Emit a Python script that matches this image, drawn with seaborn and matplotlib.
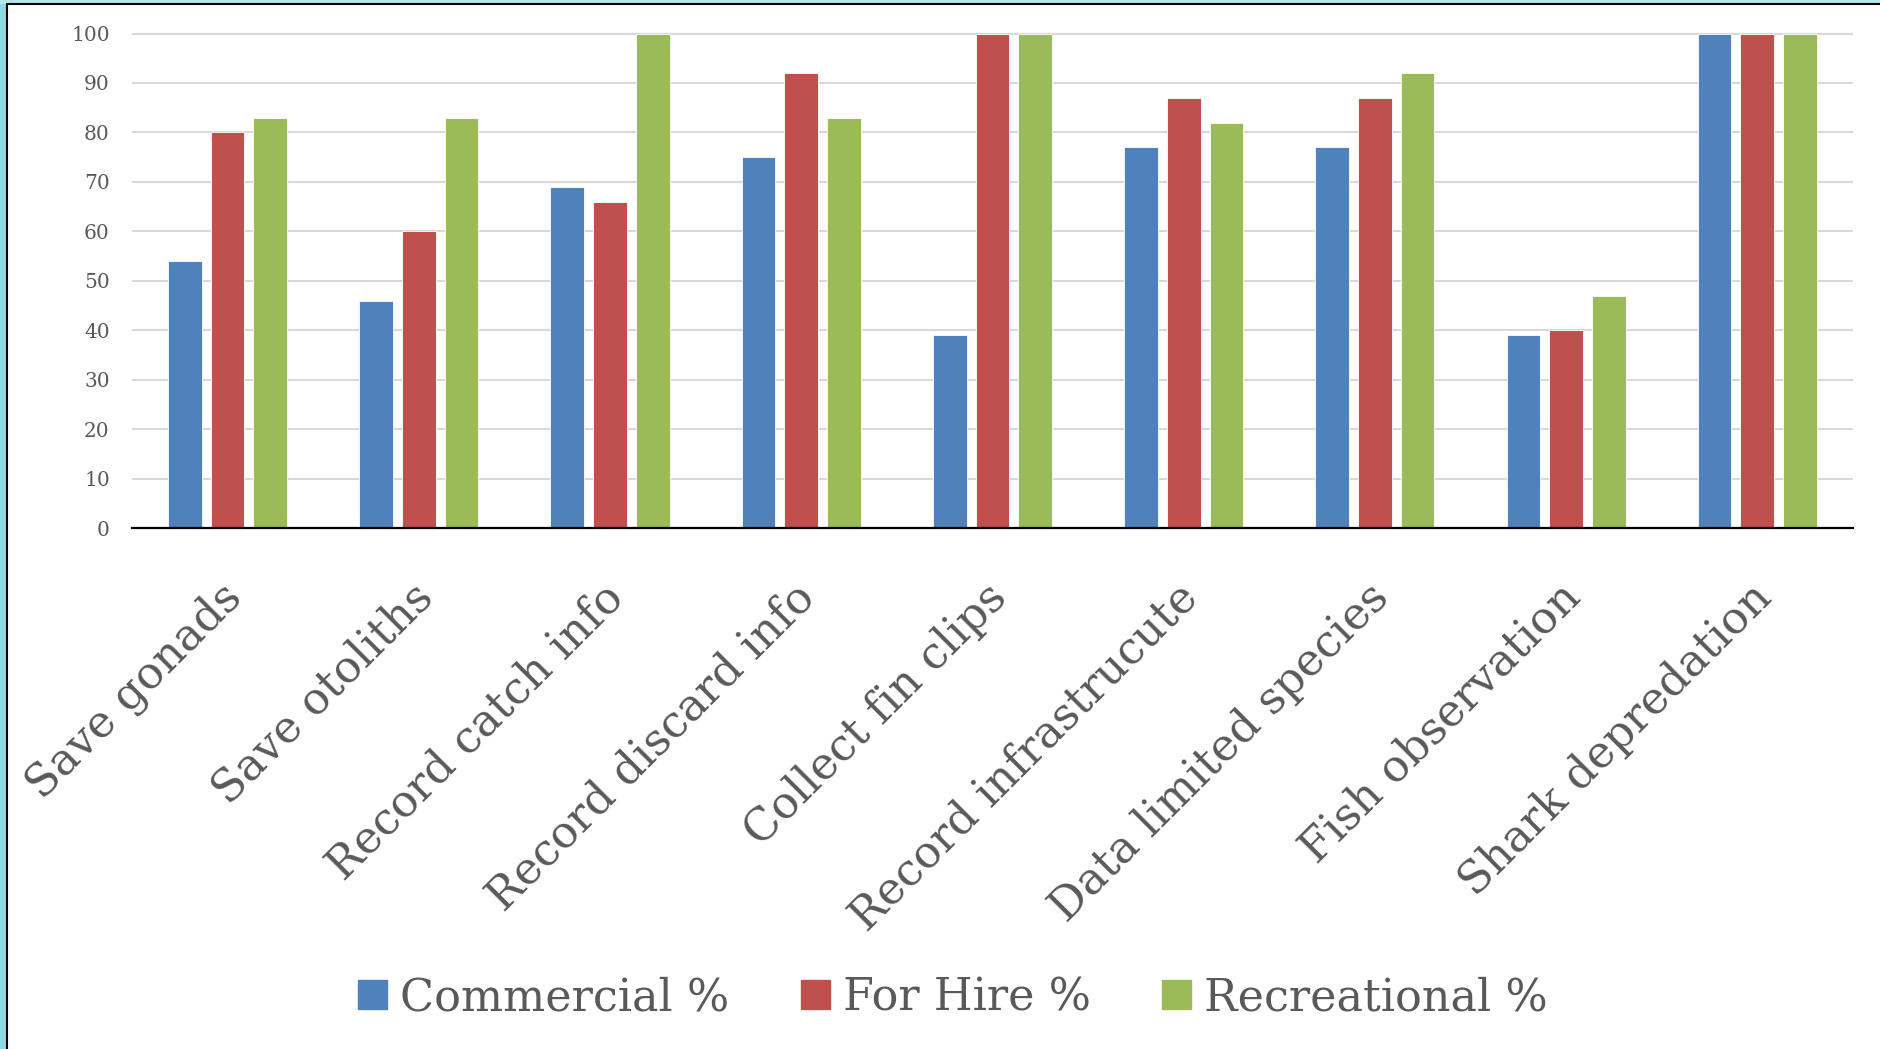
import seaborn as sns
import matplotlib.pyplot as plt
import matplotlib.transforms as mtransforms
from matplotlib.patches import Rectangle
from matplotlib.lines import Line2D
import pandas as pd

# datos
categorias = ["Save gonads", "Save otoliths", "Record catch info", "Record discard info",
              "Collect fin clips", "Record infrastrucute", "Data limited species",
              "Fish observation", "Shark depredation"]
comercial = [54, 46, 69, 75, 39, 77, 77, 39, 100]
for_hire = [80, 60, 66, 92, 100, 87, 87, 40, 100]
recreativo = [83, 83, 100, 83, 100, 82, 92, 47, 100]
series = ["Commercial %", "For Hire %", "Recreational %"]
colores = ["#4F81BD", "#C0504D", "#9BBB59"]
yticks = [0, 10, 20, 30, 40, 50, 60, 70, 80, 90, 100]

df = pd.DataFrame({
    "cat": categorias * 3,
    "serie": [s for s in series for _ in categorias],
    "valor": comercial + for_hire + recreativo,
})

sns.set_theme(style="white")
plt.rcParams["font.family"] = ["DejaVu Serif", "DejaVu Sans"]
gris = "#595959"

fig = plt.figure(figsize=(18.8, 10.49), dpi=100)
ax = fig.add_axes([0.0702, 0.49666, 0.9154, 0.47608])

sns.barplot(data=df, x="cat", y="valor", hue="serie", order=categorias, hue_order=series,
            palette=colores, saturation=1, width=0.67, gap=0.21, legend=False,
            edgecolor="white", linewidth=0.6, ax=ax)

ax.set_ylim(0, 101)
ax.set_xlim(-0.5, len(categorias) - 0.5)
ax.set_yticks(yticks)
ax.set_axisbelow(True)
ax.yaxis.grid(True, color="#D9D9D9", linewidth=1.5)
ax.xaxis.grid(False)
for s in ["top", "right", "left"]:
    ax.spines[s].set_visible(False)
ax.spines["bottom"].set_color("black")
ax.spines["bottom"].set_linewidth(1.6)
ax.set_xlabel("")
ax.set_ylabel("")

ax.tick_params(axis="y", length=0, pad=16, labelsize=14.5, labelcolor=gris)
ax.tick_params(axis="x", length=0, pad=45, labelsize=32, labelcolor=gris)
desplazamiento = mtransforms.ScaledTranslation(0.07, 0, fig.dpi_scale_trans)
for lbl in ax.get_xticklabels():
    lbl.set_rotation(45)
    lbl.set_ha("right")
    lbl.set_va("center")
    lbl.set_rotation_mode("anchor")
    lbl.set_transform(lbl.get_transform() + desplazamiento)

# leyenda abajo
manijas = [Rectangle((0, 0), 1, 1, color=c) for c in colores]
fig.legend(manijas, series, loc="center", bbox_to_anchor=(0.507, 0.049), ncol=3,
           frameon=False, fontsize=32, handlelength=0.65, handleheight=0.65,
           handletextpad=0.3, columnspacing=1.6, labelcolor=gris)

# marco celeste de la diapositiva
W, H = 1880, 1049
fig.add_artist(Rectangle((0, 0), 6.5 / W, 1, transform=fig.transFigure,
                         facecolor="#92D8DE", edgecolor="none"))
fig.add_artist(Rectangle((0, 1 - 3.5 / H), 1, 3.5 / H, transform=fig.transFigure,
                         facecolor="#B5E6EA", edgecolor="none"))
fig.add_artist(Line2D([7.5 / W, 7.5 / W], [0, 1 - 4.3 / H], transform=fig.transFigure,
                      color="black", linewidth=1.5))
fig.add_artist(Line2D([7 / W, 1], [1 - 4.3 / H, 1 - 4.3 / H], transform=fig.transFigure,
                      color="black", linewidth=1.5))

fig.savefig("out.png", dpi=100)
